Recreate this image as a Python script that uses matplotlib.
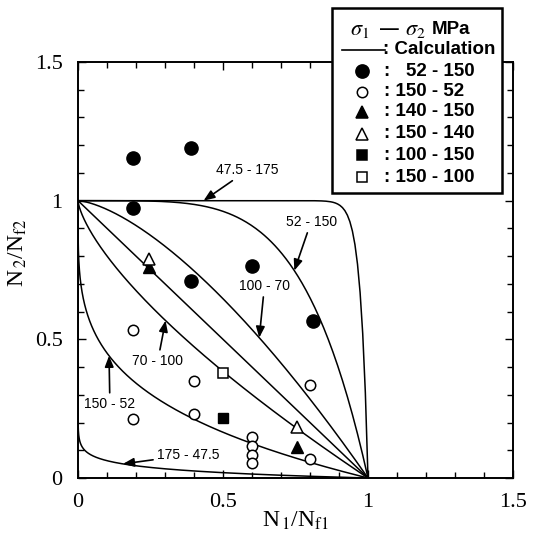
import numpy as np
import matplotlib
matplotlib.use("Agg")
import matplotlib.pyplot as plt
from matplotlib.patches import Rectangle
from matplotlib.ticker import MultipleLocator, FuncFormatter

plt.rcParams.update({
    "font.family": "Liberation Serif",
    "mathtext.fontset": "stix",
})

# calculated curves  N2/Nf2 = 1 - (N1/Nf1)^p
curve_names = ["47.5 - 175", "52 - 150", "100 - 70", "", "70 - 100", "150 - 52", "175 - 47.5"]
curve_exps = [40.0, 4.7, 1.5, 1.0, 0.70, 0.26, 0.028]

# experiments (sigma1 - sigma2)
set_names = ["  52 - 150", "150 - 52", "140 - 150", "150 - 140", "100 - 150", "150 - 100"]
fc_x = [0.19, 0.39, 0.19, 0.39, 0.60, 0.81]
fc_y = [1.155, 1.19, 0.975, 0.71, 0.765, 0.567]
oc_x = [0.19, 0.40, 0.80, 0.19, 0.40, 0.60, 0.60, 0.60, 0.60, 0.80]
oc_y = [0.534, 0.35, 0.335, 0.213, 0.23, 0.148, 0.116, 0.083, 0.054, 0.068]
ft_x = [0.245, 0.755]
ft_y = [0.76, 0.113]
ot_x = [0.245, 0.755]
ot_y = [0.79, 0.185]
fs_x = [0.50]
fs_y = [0.217]
os_x = [0.50]
os_y = [0.38]

W, H = 534, 555
fig = plt.figure(figsize=(W / 100, H / 100), dpi=100)
ax = fig.add_axes([78 / W, 1 - 478 / H, 435 / W, 416 / H])

x = np.concatenate([[0.0], np.logspace(-12, 0, 3000)])
for p in curve_exps:
    ax.plot(x, 1 - x ** p, color="k", lw=1.1, zorder=2)

# experimental points
ax.plot(fc_x, fc_y, "o", ms=9.5, mfc="k", mec="k", ls="none", zorder=4)
ax.plot(oc_x, oc_y, "o", ms=7.5, mfc="white", mec="k", mew=1.1, ls="none", zorder=4)
ax.plot(ft_x, ft_y, "^", ms=9, mfc="k", mec="k", ls="none", zorder=4)
ax.plot(ot_x, ot_y, "^", ms=9, mfc="white", mec="k", mew=1.1, ls="none", zorder=4)
ax.plot(fs_x, fs_y, "s", ms=7, mfc="k", mec="k", ls="none", zorder=4)
ax.plot(os_x, os_y, "s", ms=7, mfc="white", mec="k", mew=1.1, ls="none", zorder=4)

# arrow labels on curves: (text position, x of arrow tip)
label_pos = {
    "47.5 - 175": ((0.585, 1.11), 0.433),
    "52 - 150": ((0.804, 0.924), 0.746),
    "100 - 70": ((0.643, 0.693), 0.625),
    "70 - 100": ((0.275, 0.422), 0.302),
    "150 - 52": ((0.11, 0.267), 0.107),
    "175 - 47.5": ((0.381, 0.083), 0.155),
}
for name, p in zip(curve_names, curve_exps):
    if not name:
        continue
    txy, tipx = label_pos[name]
    ax.annotate(name, xy=(tipx, 1 - tipx ** p), xytext=txy,
                ha="center", va="center", fontsize=10,
                family="Liberation Sans",
                arrowprops=dict(arrowstyle="-|>,head_length=0.55,head_width=0.22",
                                color="k", lw=1.2, mutation_scale=12,
                                shrinkA=1, shrinkB=0),
                zorder=5)

ax.set_xlim(0, 1.5)
ax.set_ylim(0, 1.5)
for a in (ax.xaxis, ax.yaxis):
    a.set_major_locator(MultipleLocator(0.5))
    a.set_minor_locator(MultipleLocator(0.1))
    a.set_major_formatter(FuncFormatter(lambda v, _: f"{v:g}"))
ax.tick_params(which="both", direction="in", top=True, right=True,
               width=1.0, labelsize=16, pad=11)
ax.tick_params(which="major", length=6)
ax.tick_params(which="minor", length=4)
for s in ax.spines.values():
    s.set_linewidth(1.4)

ax.set_xlabel(r"N$_{\,1}$/N$_{\mathrm{f1}}$", fontsize=17, labelpad=-2)
ax.set_ylabel(r"N$_{\,2}$/N$_{\mathrm{f2}}$", fontsize=17)
ax.yaxis.set_label_coords(-0.113, 0.54)

# legend box drawn on an overlay in pixel units
lg = fig.add_axes([0, 0, 1, 1], zorder=10)
lg.set_xlim(0, W)
lg.set_ylim(H, 0)
lg.axis("off")
lg.patch.set_alpha(0)
lg.add_patch(Rectangle((332, 8), 170, 185, fc="white", ec="k", lw=1.8))
lg.text(350, 30, r"$\sigma_1$", fontsize=16, ha="left", va="center")
lg.text(380, 29, "—", fontsize=13.5, fontweight="bold",
        family="Liberation Sans", ha="left", va="center")
lg.text(405, 30, r"$\sigma_2$", fontsize=16, ha="left", va="center")
lg.text(432, 29, "MPa", fontsize=13.5, fontweight="bold",
        family="Liberation Sans", ha="left", va="center")
lg.plot([342, 385], [50, 50], color="k", lw=1.2)
lg.text(383, 50, ": Calculation", fontsize=13.5, fontweight="bold",
        family="Liberation Sans", ha="left", va="center")
styles = [("o", "k", 9.5), ("o", "white", 7.5), ("^", "k", 9),
          ("^", "white", 9), ("s", "k", 7), ("s", "white", 7)]
rows_y = [71, 92, 112, 134, 155, 177]
for name, (m, fc, ms), yy in zip(set_names, styles, rows_y):
    lg.plot([362], [yy], m, ms=ms, mfc=fc, mec="k", mew=1.1)
    lg.text(384, yy, ": " + name, fontsize=13.5, fontweight="bold",
            family="Liberation Sans", ha="left", va="center")

fig.savefig("out.png", dpi=100)
